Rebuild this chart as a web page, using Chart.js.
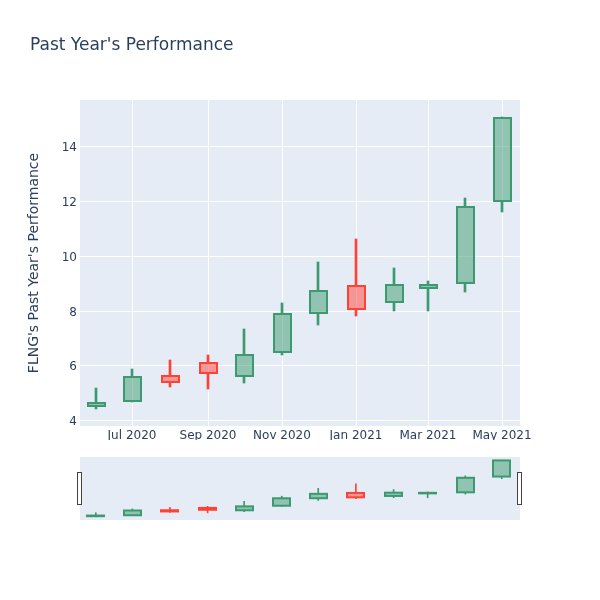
<!DOCTYPE html>
<html><head><meta charset="utf-8">
<script src="https://cdn.jsdelivr.net/npm/chart.js@4.4.0/dist/chart.umd.min.js"></script>
<style>
html,body{margin:0;padding:0;background:#fff;}
#wrap{position:relative;width:600px;height:600px;}
#main{position:absolute;left:0;top:0;}
#slider{position:absolute;left:0;top:440px;}
</style></head><body>
<div id="wrap"><canvas id="main" width="600" height="440"></canvas><canvas id="slider" width="600" height="100"></canvas></div>
<script>
const dates = ['2020-06-01','2020-07-01','2020-08-01','2020-09-01','2020-10-01','2020-11-01','2020-12-01','2021-01-01','2021-02-01','2021-03-01','2021-04-01','2021-05-01'];
const openValues  = [4.50, 4.68, 5.62, 6.07, 5.62, 6.48, 7.90, 8.90, 8.33, 8.82, 9.02, 12.00];
const highValues  = [5.16, 5.87, 6.19, 6.37, 7.33, 8.28, 9.77, 10.63, 9.54, 9.10, 12.13, 15.09];
const lowValues   = [4.39, 4.67, 5.22, 5.13, 5.34, 6.38, 7.48, 7.80, 7.99, 7.99, 8.68, 11.60];
const closeValues = [4.62, 5.58, 5.40, 5.72, 6.36, 7.89, 8.73, 8.07, 8.95, 8.92, 11.77, 15.05];
const xTickDates  = ['2020-07-01','2020-09-01','2020-11-01','2021-01-01','2021-03-01','2021-05-01'];
const xTickLabels = ['Jul 2020','Sep 2020','Nov 2020','Jan 2021','Mar 2021','May 2021'];
const yTickValues = [4, 6, 8, 10, 12, 14];
const xRange = ['2020-05-19','2021-05-16'];
const yRange = [3.78, 15.70];

const toDay = s => Date.parse(s + 'T00:00:00Z') / 86400000;
const INC_LINE = '#3D9970', INC_FILL = 'rgba(61,153,112,0.5)';
const DEC_LINE = '#FF4136', DEC_FILL = 'rgba(255,65,54,0.5)';
const TXT = '#2a3f5f';
const FONT = 'DejaVu Sans';

const isUp = i => closeValues[i] >= openValues[i];
const lineCols = dates.map((d,i) => isUp(i) ? INC_LINE : DEC_LINE);
const fillCols = dates.map((d,i) => isUp(i) ? INC_FILL : DEC_FILL);

function makeDatasets(wickW) {
  return [
    { label:'body', data: dates.map((d,i)=>({x:toDay(d), y:[openValues[i], closeValues[i]]})),
      backgroundColor: fillCols, borderWidth: 0, borderSkipped: false,
      barThickness: 17, grouped: false },
    { label:'upper', data: dates.map((d,i)=>({x:toDay(d), y:[Math.max(openValues[i],closeValues[i]), highValues[i]]})),
      backgroundColor: lineCols, borderWidth: 0, barThickness: wickW, grouped: false },
    { label:'lower', data: dates.map((d,i)=>({x:toDay(d), y:[lowValues[i], Math.min(openValues[i],closeValues[i])]})),
      backgroundColor: lineCols, borderWidth: 0, barThickness: wickW, grouped: false }
  ];
}

const bgPlugin = { id:'bg', beforeDraw(chart){ const {ctx, chartArea:a} = chart; ctx.save(); ctx.fillStyle='#e5ecf6'; ctx.fillRect(a.left, a.top, a.right-a.left, a.bottom-a.top); ctx.restore(); } };

// outline each candle body with a stroke centred on its edges (like plotly boxes)
const outlinePlugin = { id:'outline', afterDatasetsDraw(chart){
  const ctx = chart.ctx; const meta = chart.getDatasetMeta(0);
  ctx.save(); ctx.lineWidth = 2;
  meta.data.forEach((el, i) => {
    const p = el.getProps(['x','y','base','width'], true);
    const left = Math.round(p.x - p.width/2);
    const top = Math.min(p.y, p.base), h = Math.abs(p.base - p.y);
    ctx.strokeStyle = lineCols[i];
    ctx.strokeRect(left, top, Math.round(p.width), h);
  });
  ctx.restore(); } };

new Chart(document.getElementById('main'), {
  type: 'bar',
  data: { datasets: makeDatasets(2) },
  plugins: [bgPlugin, outlinePlugin],
  options: {
    responsive: false, animation: false,
    layout: { padding: { left: 30, right: 80, top: 0, bottom: 0 } },
    plugins: {
      legend: { display: false }, tooltip: { enabled: false },
      title: { display: true, text: "Past Year's Performance", align: 'start', color: TXT,
        font: { family: FONT, size: 17, weight: 'normal' }, padding: { top: 35.8, bottom: 43.8 } }
    },
    scales: {
      x: { type: 'linear', min: toDay(xRange[0]), max: toDay(xRange[1]), offset: false, alignToPixels: true,
        afterBuildTicks: s => { s.ticks = xTickDates.map(d => ({ value: toDay(d) })); },
        afterFit: s => { s.height = 14; },
        ticks: { callback: (v, i) => xTickLabels[i], color: TXT, font: { family: FONT, size: 12 }, padding: 3, maxRotation: 0, autoSkip: false },
        grid: { color: '#ffffff', lineWidth: 1, drawTicks: false, offset: false }, border: { display: false } },
      y: { type: 'linear', min: yRange[0], max: yRange[1], alignToPixels: true,
        afterBuildTicks: s => { s.ticks = yTickValues.map(v => ({ value: v })); },
        afterFit: s => { s.width = 50; },
        ticks: { callback: v => String(v), color: TXT, font: { family: FONT, size: 12 }, padding: 3, labelOffset: 1.5 },
        grid: { color: '#ffffff', lineWidth: 1, drawTicks: false }, border: { display: false },
        title: { display: true, text: "FLNG's Past Year's Performance", color: TXT, font: { family: FONT, size: 14 }, padding: { top: -4.4, bottom: 0 } } }
    }
  }
});

const handlePlugin = { id:'handles', afterDraw(chart){ const {ctx, chartArea:a} = chart; const cy = Math.round((a.top+a.bottom)/2);
  ctx.save(); ctx.fillStyle = '#ffffff'; ctx.strokeStyle = '#444444'; ctx.lineWidth = 1;
  [a.left, a.right].forEach(x => { const rx = Math.round(x) - 2.5; ctx.fillRect(rx, cy-16.5, 4, 32); ctx.strokeRect(rx, cy-16.5, 4, 32); });
  ctx.restore(); } };

new Chart(document.getElementById('slider'), {
  type: 'bar',
  data: { datasets: makeDatasets(1) },
  plugins: [bgPlugin, outlinePlugin, handlePlugin],
  options: {
    responsive: false, animation: false,
    layout: { padding: { left: 80, right: 80, top: 17, bottom: 20 } },
    plugins: { legend: { display: false }, tooltip: { enabled: false }, title: { display: false } },
    scales: {
      x: { type: 'linear', display: false, min: toDay(xRange[0]), max: toDay(xRange[1]), offset: false },
      y: { type: 'linear', display: false, min: yRange[0], max: yRange[1] }
    }
  }
});
</script>
</body></html>
